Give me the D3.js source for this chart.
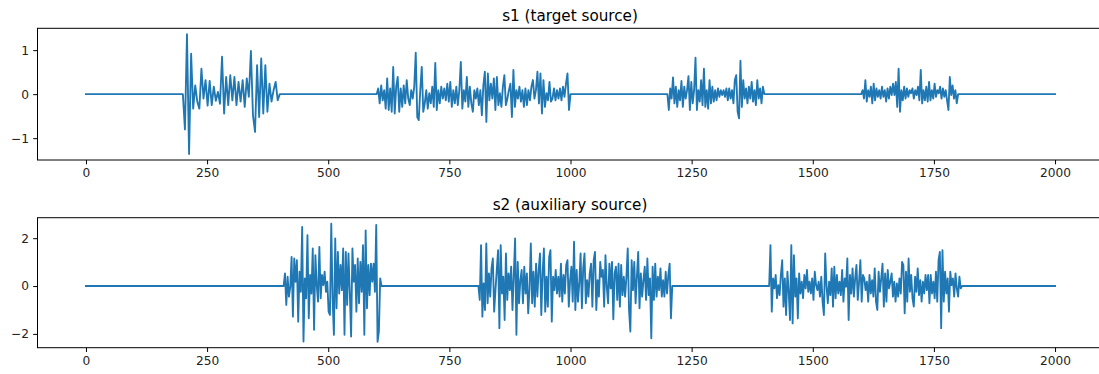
<!DOCTYPE html>
<html><head><meta charset="utf-8">
<script src="https://cdn.jsdelivr.net/npm/d3@7"></script>
<style>
html,body{margin:0;padding:0;background:#fff;}
svg{display:block;font-family:"DejaVu Sans",sans-serif;}
</style></head>
<body><svg id="chart" width="1099" height="374"></svg>
<script>
// ---------------- data ----------------
const titles = ["s1 (target source)", "s2 (auxiliary source)"];
const xStart = 0, xEnd = 2000;
const xTicks = [0, 250, 500, 750, 1000, 1250, 1500, 1750, 2000];
const s1YTicks = [-1, 0, 1];
const s2YTicks = [-2, 0, 2];

// s1 active bursts (start, end) and their values
const s1Starts = [200, 600, 1200, 1600];
const s1Ends   = [400, 1000, 1400, 1800];
const s1Seg1 = [-0.80,1.36,-1.36,0.92,-0.33,0.20,-0.17,-0.33,0.58,-0.10,0.32,-0.26,0.30,-0.25,0.17,-0.15,0.05,-0.22,0.85,-0.44,0.39,-0.25,0.43,-0.14,0.39,-0.25,0.28,-0.17,0.32,-0.29,0.36,-0.06,0.98,-0.48,-0.86,0.66,-0.52,0.81,-0.44,0.66,-0.40,0.24,-0.17,0.09,0.28,-0.14];
const s1Seg2 = [0.13,-0.21,0.20,-0.14,0.09,-0.33,0.36,-0.36,0.13,-0.40,0.62,-0.44,0.17,0.39,-0.40,0.13,-0.29,0.20,-0.21,0.32,-0.10,-0.25,0.09,-0.10,0.17,0.94,-0.52,-0.59,0.09,0.62,-0.40,-0.21,0.09,-0.33,0.02,-0.21,0.17,-0.29,0.71,-0.36,0.09,-0.21,0.17,-0.10,0.13,-0.14,0.24,-0.17,0.28,-0.29,0.09,-0.21,0.17,-0.25,0.09,0.73,-0.33,0.09,-0.17,0.39,-0.29,0.17,-0.21,
  -0.40,0.09,-0.10,0.13,-0.25,0.09,-0.48,0.20,0.51,-0.63,0.47,-0.14,0.24,-0.10,0.36,-0.36,0.39,-0.25,0.02,-0.29,0.17,0.43,-0.25,-0.10,0.09,0.24,-0.52,0.55,-0.29,0.09,-0.10,0.17,-0.17,0.09,-0.29,0.13,-0.25,0.09,-0.14,0.17,0.32,-0.10,0.09,0.51,-0.21,0.47,-0.44,0.32,-0.29,0.02,-0.14,0.28,-0.17,-0.10,0.13,-0.14,0.09,-0.10,0.13,-0.14,0.17,-0.06,0.24,0.47,-0.36];
const s1Seg3 = [-0.36,0.13,-0.10,0.38,-0.21,0.17,-0.29,0.09,-0.14,0.30,-0.29,0.17,-0.10,0.09,0.41,-0.36,0.28,-0.21,0.09,0.83,-0.36,0.09,-0.17,0.32,-0.25,0.58,-0.29,0.09,-0.33,0.32,-0.21,0.17,-0.17,0.09,-0.14,0.13,-0.06,0.09,-0.02,0.09,-0.06,0.13,-0.14,0.13,-0.10,0.09,-0.21,0.32,0.43,-0.40,-0.55,0.76,-0.29,0.32,-0.10,0.13,-0.21,0.17,-0.10,0.28,-0.17,0.09,-0.25,0.32,-0.10,0.13,-0.21,0.17];
const s1Seg4 = [0.09,-0.10,0.32,-0.17,0.09,-0.06,0.17,-0.21,0.24,-0.14,0.13,-0.06,0.09,-0.10,0.17,-0.06,0.09,-0.17,0.13,-0.10,0.17,-0.02,0.24,-0.02,0.28,-0.29,0.58,-0.40,0.09,-0.14,0.17,-0.10,0.13,-0.06,0.09,0.02,0.13,-0.10,0.09,-0.02,0.17,-0.14,0.55,-0.21,0.09,-0.14,0.17,-0.17,0.28,-0.14,0.09,-0.10,0.24,-0.06,0.09,0.02,0.17,-0.10,0.13,-0.06,0.09,-0.14,-0.36,0.39,-0.02,0.20,-0.10,0.09,-0.21];

// s2 active bursts
const s2Starts = [408, 810, 1410];
const s2Ends   = [610, 1210, 1808];
const s2Seg1 = [0.53,-0.79,0.39,-0.44,-0.03,1.22,-1.28,1.15,0.18,1.08,-1.49,0.60,-0.24,2.47,-2.32,0.32,-0.51,2.13,-1.35,0.46,-0.31,1.57,-1.83,1.29,0.04,-0.65,1.64,-0.51,0.46,0.04,0.60,-0.24,0.18,-1.07,-1.21,2.61,-0.51,-2.04,1.99,-0.93,1.43,-0.31,0.88,-0.17,1.57,-2.04,1.43,-0.79,1.36,-0.24,-2.11,1.57,0.18,0.88,-1.07,1.15,-0.72,1.01,-0.24,1.71,-2.04,2.33,-0.93,0.88,-0.38,0.94,0.18,0.94,-0.24,2.55,-2.33,-1.90,0.32];
const s2Seg2 = [-0.58,1.71,-1.28,0.11,-1.00,1.78,-0.72,0.53,-0.44,0.74,1.15,-1.07,-0.17,0.67,1.50,-1.76,1.71,-0.31,0.39,-1.42,1.36,-0.58,0.53,-0.17,0.81,-1.00,0.46,1.99,-2.04,1.01,-0.72,0.25,0.67,-0.72,0.81,-0.31,0.53,-1.14,-0.10,1.78,-0.72,0.60,-0.86,0.94,-0.44,0.67,1.36,-1.21,0.53,1.57,-1.07,0.39,-0.86,1.22,1.50,-1.49,0.39,-0.17,0.67,-0.31,0.39,-0.44,0.94,-0.65,0.46,-0.31,0.88,1.08,-0.86,0.25,
  0.81,-0.65,1.85,-1.00,0.67,-0.65,0.11,1.36,-0.93,0.74,1.36,-0.72,0.25,-0.44,0.53,0.94,-0.86,1.08,1.43,-1.00,0.25,-0.44,1.01,0.39,0.67,-0.86,1.29,-0.03,-0.72,0.94,-0.10,1.01,-1.39,0.53,0.81,-0.58,0.94,-0.86,0.88,-0.38,0.39,-0.44,0.39,1.57,-1.00,-1.90,1.08,-0.17,1.01,-0.72,0.39,1.43,-0.93,0.53,-0.44,0.25,0.81,-0.58,1.15,-0.38,0.32,-2.18,0.81,-0.58,0.94,-0.44,0.39,-0.17,0.74,-0.44,0.25,-0.44,0.60,-0.31,0.46,0.94,-1.35];
const s2Seg3 = [1.71,-1.07,0.32,-0.10,0.46,-0.51,0.04,-0.38,0.46,1.08,-0.86,0.32,-1.21,0.60,-0.24,-1.42,1.71,-1.56,1.29,-0.44,0.32,-1.35,0.53,-0.31,0.18,-0.51,0.46,-0.10,0.67,-0.24,0.18,-0.31,0.32,-0.58,0.60,0.04,-0.17,0.18,-0.44,0.39,-0.65,-1.21,1.36,0.04,-0.72,0.18,-0.38,0.74,-0.86,0.81,-0.51,0.46,-0.31,0.18,-0.38,0.67,-0.65,0.32,-0.03,1.15,-1.42,0.46,-0.31,0.74,-0.44,0.32,0.88,-0.58,0.18,1.08,-0.65,0.46,
  0.32,-0.17,0.18,-0.65,0.46,-0.31,0.25,-0.44,0.74,-0.65,-1.00,0.60,-0.24,0.32,0.94,-0.86,0.53,-0.65,0.67,-0.10,0.18,0.53,-0.44,0.18,-0.65,0.11,-0.44,0.32,-0.31,1.01,0.88,-1.14,0.60,-0.65,1.15,-0.24,0.46,-0.51,-0.86,0.39,-0.24,0.74,-0.38,0.25,-0.65,0.18,-0.31,0.46,-0.17,0.46,-0.72,0.46,-0.31,0.18,-0.51,0.60,-0.65,1.08,1.43,-1.76,1.50,-0.65,0.60,-0.31,0.32,-1.07,0.60,0.04,0.32,-0.44,0.53,-0.10,-0.44,0.39,-0.10];

// ---------------- build series ----------------
function buildSeries(starts, ends, segs) {
  const pts = [[xStart, 0]];
  segs.forEach((vals, k) => {
    const a = starts[k], b = ends[k];
    pts.push([a, 0]);
    const n = vals.length;
    vals.forEach((v, i) => pts.push([a + (b - a) * (i + 1) / (n + 1), v]));
    pts.push([b, 0]);
  });
  pts.push([xEnd, 0]);
  return pts;
}
const series = [
  {data: buildSeries(s1Starts, s1Ends, [s1Seg1, s1Seg2, s1Seg3, s1Seg4]), yTicks: s1YTicks},
  {data: buildSeries(s2Starts, s2Ends, [s2Seg1, s2Seg2, s2Seg3]), yTicks: s2YTicks}
];

// ---------------- layout ----------------
const svg = d3.select("#chart");
const left = 37.5, right = 1103.5;
const panels = [{top: 28.3, bottom: 160}, {top: 217.7, bottom: 347.7}];
const color = "#1f77b4";
const tickLen = 4.3, tickFont = 12.2, titleFont = 15.2;

const x = d3.scaleLinear()
  .domain((() => { const p = (xEnd - xStart) * 0.05; return [xStart - p, xEnd + p]; })())
  .range([left, right]);

series.forEach((s, i) => {
  const P = panels[i];
  const ext = d3.extent(s.data, d => d[1]);
  const pad = (ext[1] - ext[0]) * 0.05;
  const y = d3.scaleLinear().domain([ext[0] - pad, ext[1] + pad]).range([P.bottom, P.top]);

  const g = svg.append("g");
  const cid = "clip" + i;
  svg.append("clipPath").attr("id", cid).append("rect")
    .attr("x", left).attr("y", P.top).attr("width", right - left).attr("height", P.bottom - P.top);

  g.append("path").datum(s.data)
    .attr("clip-path", `url(#${cid})`)
    .attr("fill", "none").attr("stroke", color).attr("stroke-width", 1.85)
    .attr("stroke-linejoin", "round").attr("stroke-linecap", "square")
    .attr("d", d3.line().x(d => x(d[0])).y(d => y(d[1])));

  const xAxis = d3.axisBottom(x).tickValues(xTicks).tickSizeOuter(0).tickSize(tickLen).tickPadding(4.3)
    .tickFormat(d3.format("d"));
  const gx = g.append("g").attr("transform", `translate(0,${P.bottom})`).call(xAxis);
  const yAxis = d3.axisLeft(y).tickValues(s.yTicks).tickSizeOuter(0).tickSize(tickLen).tickPadding(4.3)
    .tickFormat(d => d < 0 ? "\u2212" + Math.abs(d) : String(d));
  const gy = g.append("g").attr("transform", `translate(${left},0)`).call(yAxis);
  [gx, gy].forEach(a => {
    a.select(".domain").remove();
    a.selectAll("line").attr("stroke", "#000").attr("stroke-width", 1);
    a.selectAll("text").attr("fill", "#222").attr("font-size", tickFont)
      .attr("font-family", "DejaVu Sans, sans-serif");
  });
  g.append("rect").attr("x", left).attr("y", P.top)
    .attr("width", right - left).attr("height", P.bottom - P.top)
    .attr("fill", "none").attr("stroke", "#000").attr("stroke-width", 1);

  g.append("text").attr("x", (left + right) / 2 - 0.5).attr("y", P.top - 7.3)
    .attr("text-anchor", "middle").attr("font-size", titleFont).attr("fill", "#000")
    .text(titles[i]);
});
</script></body></html>
